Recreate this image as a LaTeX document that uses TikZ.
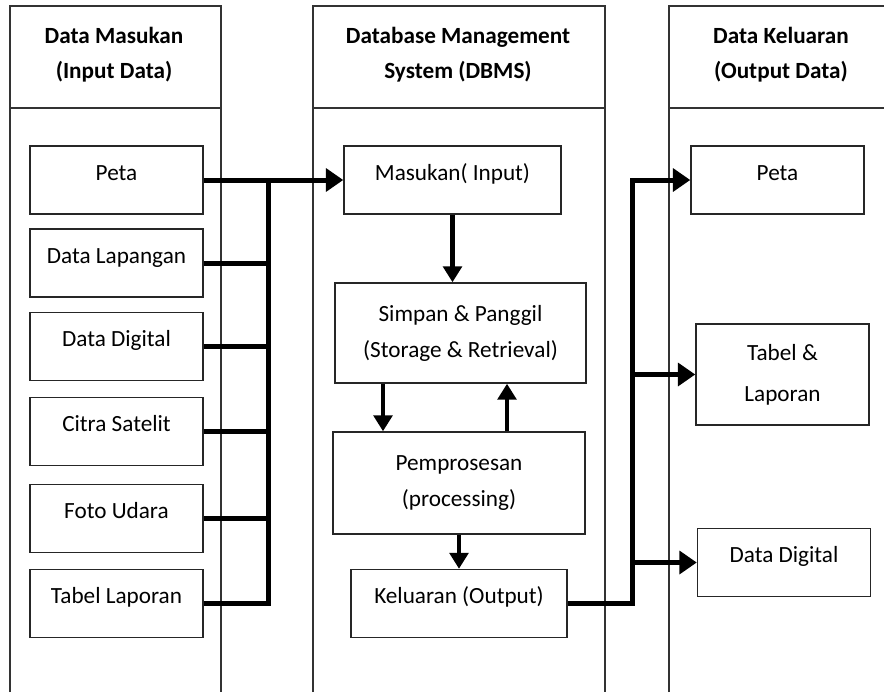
\documentclass[tikz,border=0pt]{standalone}
\usepackage{fontspec}
\setmainfont{Carlito}
\usetikzlibrary{arrows.meta}
\begin{document}
\begin{tikzpicture}[x=0.75pt,y=-0.75pt,font=\fontsize{17.4}{27}\selectfont,
    col/.style={line width=0.9pt,draw=black!80},
    box/.style={draw=black!85,line width=1.1pt,minimum width=129.75pt,minimum height=51pt,align=center},
    onebox/.style={box,text height=11pt,text depth=11pt},
    head/.style={font=\fontsize{17.4}{26}\selectfont\bfseries,align=center},
    bus/.style={line width=3.75pt},
    arr/.style={bus,-{Triangle[length=13pt,width=17pt]}},
    varr/.style={line width=3.6pt,-{Triangle[length=12pt,width=14pt]}}]
                 \useasboundingbox (0,0) rectangle (884,692);
                 \draw[col] (10,692) -- (10,6) -- (221,6) -- (221,692) (10,108) -- (221,108);
                 \draw[col] (313,692) -- (313,6) -- (605,6) -- (605,692) (313,108) -- (605,108);
                 \draw[col] (669,692) -- (669,6) -- (884,6) (669,108) -- (884,108);
                 \node[head](hin)at(114,55){Data Masukan\\(Input Data)};
                 \node[head](hdb)at(458,55){Database Management\\System (DBMS)};
                 \node[head](hout)at(781,55){Data Keluaran\\(Output Data)};
                 \node[onebox](lpeta)at(116.5,180){Peta};
                 \node[onebox](llap)at(116.5,263){Data Lapangan};
                 \node[onebox](ldig)at(116.5,346.5){Data Digital};
                 \node[onebox](lcit)at(116.5,431.5){Citra Satelit};
                 \node[onebox](lfot)at(116.5,518.5){Foto Udara};
                 \node[onebox](ltab)at(116.5,603.5){Tabel Laporan};
                 \node[onebox,minimum width=162.75pt](masuk)at(452.5,180){Masukan( Input)};
                 \node[box,minimum width=188.25pt,minimum height=75pt](simpan)at(460.5,333){Simpan \& Panggil\\(Storage \& Retrieval)};
                 \node[box,minimum width=189pt,minimum height=76.5pt](proses)at(459,483){Pemprosesan\\(processing)};
                 \node[onebox,minimum width=162pt](keluar)at(459,603.5){Keluaran (Output)};
                 \node[onebox](rpeta)at(777.5,180){Peta};
                 \node[box,minimum height=75.75pt,font=\fontsize{17.4}{31}\selectfont](rtab)at(782.5,374.5){Tabel \&\\Laporan};
                 \node[onebox](rdig)at(784,562.5){Data Digital};
                 \coordinate (bt) at (268,180);
                 \coordinate (dn) at (383,0);
                 \coordinate (up) at (507,0);
                 \coordinate (oj) at (632,0);
                 \draw[bus] (ltab.east) -| (bt);
                 \foreach \b in {llap,ldig,lcit,lfot} \draw[bus] (\b.east) -- (\b.east -| bt);
                 \draw[arr] (lpeta.east) -- (masuk.west);
                 \draw[varr] (masuk.south) -- (masuk.south |- simpan.north);
                 \draw[varr] (simpan.south -| dn) -- (proses.north -| dn);
                 \draw[varr] (proses.north -| up) -- (simpan.south -| up);
                 \draw[varr] (proses.south) -- (keluar.north);
                 \draw[arr] (keluar.east) -| (oj |- rpeta.west) -- (rpeta.west);
                 \draw[arr] (oj |- rtab.west) -- (rtab.west);
                 \draw[arr] (oj |- rdig.west) -- (rdig.west);
               \end{tikzpicture}
\end{document}
